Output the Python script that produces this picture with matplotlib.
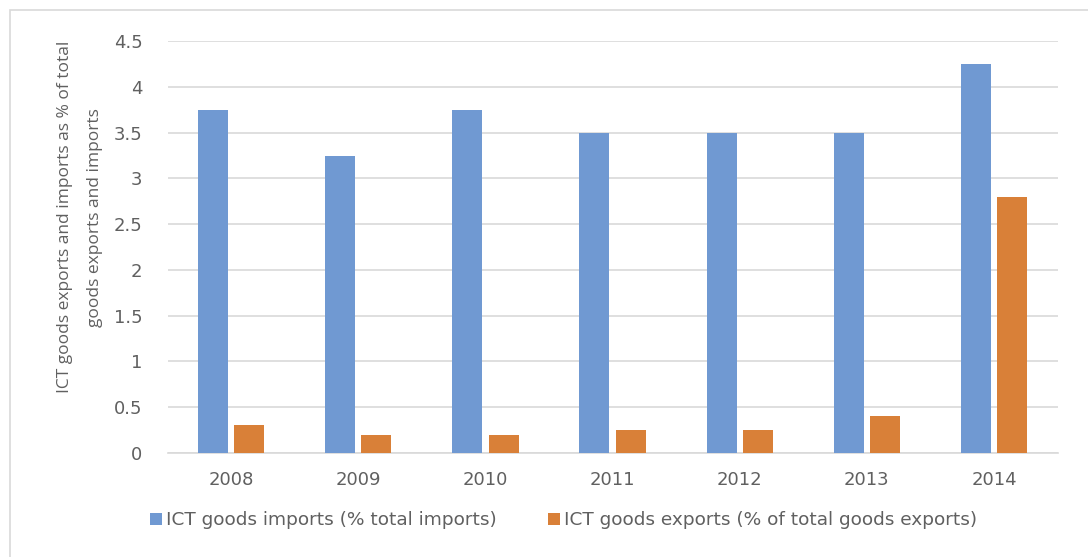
import matplotlib
matplotlib.use('Agg')
import matplotlib.pyplot as plt
import numpy as np
from matplotlib.patches import Rectangle

# %% Data
years = ['2008', '2009', '2010', '2011', '2012', '2013', '2014']
imports_pct = [3.75, 3.25, 3.75, 3.5, 3.5, 3.5, 4.25]
exports_pct = [0.3, 0.2, 0.2, 0.25, 0.25, 0.4, 2.8]
yticks = [0, 0.5, 1, 1.5, 2, 2.5, 3, 3.5, 4, 4.5]
tick_labels = ['0', '0.5', '1', '1.5', '2', '2.5', '3', '3.5', '4', '4.5']

# %% Plot
plt.rcParams['font.family'] = ['DejaVu Sans']
text_col = '#606060'
blue = '#7099d2'
orange = '#d98038'

fig = plt.figure(figsize=(10.88, 5.57), dpi=100)
ax = fig.add_axes([0.154, 0.187, 0.818, 0.739])

x = np.arange(len(years))
w = 0.236
ax.bar(x - w / 2 - 0.025, imports_pct, w, color=blue,
       label='ICT goods imports (% total imports)', zorder=3)
ax.bar(x + w / 2 + 0.025, exports_pct, w, color=orange,
       label='ICT goods exports (% of total goods exports)', zorder=3)

ax.set_xlim(-0.5, len(years) - 0.5)
ax.set_ylim(0, 4.5)
ax.set_xticks(x, years)
ax.set_yticks(yticks, tick_labels)
ax.yaxis.grid(True, color='#d9d9d9', linewidth=1.2, zorder=0)
for s in ['left', 'right', 'top']:
    ax.spines[s].set_visible(False)
ax.spines['bottom'].set_color('#d9d9d9')
ax.spines['bottom'].set_linewidth(1.2)
ax.tick_params(axis='both', length=0, colors=text_col, labelsize=13)
ax.tick_params(axis='y', pad=18)
ax.tick_params(axis='x', pad=13)

fig.text(0.0735, 0.61, 'ICT goods exports and imports as % of total\ngoods exports and imports',
         rotation=90, ha='center', va='center', color=text_col, fontsize=12.5,
         linespacing=2.2, family='Open Sans')

leg = fig.legend(loc='center', bbox_to_anchor=(0.518, 0.066), ncol=2, frameon=False,
                 fontsize=13.3, handlelength=0.65, handleheight=0.65,
                 handletextpad=0.2, columnspacing=2.8)
for t in leg.get_texts():
    t.set_color(text_col)

# outer chart border
fig.patches.append(Rectangle((10 / 1088, -0.01), 1.05, 1 - 10 / 557 + 0.01,
                             transform=fig.transFigure, fill=False,
                             edgecolor='#d9d9d9', linewidth=1.2))

plt.savefig('out.png', dpi=100)
plt.close('all')
